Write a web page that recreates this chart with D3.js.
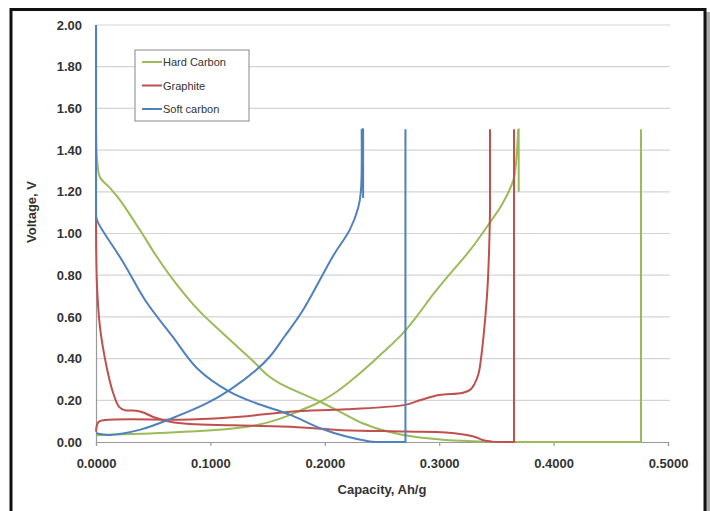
<!DOCTYPE html>
<html>
<head>
<meta charset="utf-8">
<script src="https://cdn.jsdelivr.net/npm/d3@7"></script>
<style>
  body { margin: 0; background: #fff; }
  svg { display: block; font-family: "Liberation Sans", Arial, sans-serif; }
</style>
</head>
<body>
<div id="chart"></div>
<script>
// capacity (Ah/g), voltage (V) pairs
const hardCarbonDischarge = [[0,1.5],[0.001,1.35],[0.0035,1.27],[0.012,1.22],[0.021,1.16],[0.038,1.02],[0.053,0.89],[0.07,0.76],[0.09,0.63],[0.111,0.52],[0.125,0.45],[0.137,0.39],[0.15,0.32],[0.161,0.28],[0.196,0.193],[0.215,0.14],[0.233,0.09],[0.255,0.05],[0.277,0.026],[0.305,0.01],[0.336,0.003],[0.345,0],[0.4764,0],[0.4764,1.5]];
const hardCarbonCharge = [[0,0.032],[0.04,0.04],[0.083,0.05],[0.12,0.065],[0.14,0.08],[0.161,0.112],[0.178,0.15],[0.196,0.193],[0.21,0.24],[0.222,0.29],[0.234,0.345],[0.251,0.43],[0.268,0.52],[0.28,0.6],[0.295,0.71],[0.31,0.81],[0.327,0.92],[0.344,1.05],[0.355,1.14],[0.365,1.26],[0.368,1.4],[0.369,1.5],[0.3695,1.5],[0.3695,1.2]];
const graphiteDischarge = [[0,1.1],[0.0008,0.76],[0.0035,0.55],[0.0093,0.36],[0.015,0.235],[0.02,0.17],[0.025,0.153],[0.035,0.15],[0.042,0.14],[0.05,0.12],[0.065,0.097],[0.082,0.086],[0.12,0.08],[0.17,0.073],[0.19,0.066],[0.212,0.058],[0.27,0.05],[0.306,0.045],[0.33,0.026],[0.338,0.01],[0.347,0.001],[0.3654,0],[0.3654,1.5]];
const graphiteCharge = [[0,0.05],[0.002,0.095],[0.008,0.105],[0.082,0.108],[0.126,0.121],[0.17,0.145],[0.219,0.157],[0.27,0.178],[0.283,0.2],[0.3,0.225],[0.32,0.235],[0.327,0.25],[0.331,0.28],[0.3345,0.33],[0.337,0.42],[0.3395,0.55],[0.342,0.72],[0.3435,0.9],[0.3444,1.1],[0.3444,1.5]];
const softCarbonDischarge = [[0,2.0],[0,1.08],[0.002,1.05],[0.024,0.86],[0.043,0.68],[0.067,0.505],[0.089,0.35],[0.117,0.24],[0.14,0.186],[0.17,0.13],[0.196,0.066],[0.219,0.026],[0.238,0.004],[0.245,0],[0.2705,0],[0.2705,1.5]];
const softCarbonCharge = [[0,0.042],[0.012,0.034],[0.038,0.058],[0.067,0.115],[0.097,0.186],[0.117,0.25],[0.14,0.345],[0.152,0.41],[0.164,0.5],[0.181,0.633],[0.207,0.89],[0.222,1.02],[0.229,1.12],[0.2315,1.2],[0.2322,1.5],[0.2335,1.5],[0.2335,1.17]];

const seriesNames = ['Hard Carbon', 'Graphite', 'Soft carbon'];
const seriesColors = ['#9bbb59', '#c0504d', '#4f81bd'];
// head / tail = how many points at each end are straight (vertical or flat) runs
const curves = [
  { name: 'Hard Carbon', data: hardCarbonDischarge, head: 0, tail: 2 },
  { name: 'Hard Carbon', data: hardCarbonCharge, head: 0, tail: 2 },
  { name: 'Graphite', data: graphiteDischarge, head: 0, tail: 2 },
  { name: 'Graphite', data: graphiteCharge, head: 0, tail: 1 },
  { name: 'Soft carbon', data: softCarbonDischarge, head: 1, tail: 2 },
  { name: 'Soft carbon', data: softCarbonCharge, head: 0, tail: 2 }
];
const xTicks = [0, 0.1, 0.2, 0.3, 0.4, 0.5];
const yTicks = [0, 0.2, 0.4, 0.6, 0.8, 1.0, 1.2, 1.4, 1.6, 1.8, 2.0];

const W = 710, H = 511;
const mLeft = 96, mRight = 668, mTop = 25, mBottom = 442;

const svg = d3.select('#chart').append('svg')
  .attr('width', W).attr('height', H);

// frame with drop shadow
svg.append('rect').attr('x', 13).attr('y', 12).attr('width', 697).attr('height', 510)
  .attr('fill', '#aaa');
svg.append('rect').attr('x', 11).attr('y', 9.5).attr('width', 694).attr('height', 510)
  .attr('fill', '#fff').attr('stroke', '#111').attr('stroke-width', 3);

const x = d3.scaleLinear().domain([0, 0.5]).range([mLeft, mRight]);
const y = d3.scaleLinear().domain([0, 2]).range([mBottom, mTop]);
const color = d3.scaleOrdinal().domain(seriesNames).range(seriesColors);

// gridlines
svg.append('g')
  .selectAll('line').data(yTicks.slice(1)).enter()
  .append('line')
  .attr('x1', mLeft).attr('x2', mRight + 2)
  .attr('y1', d => y(d)).attr('y2', d => y(d))
  .attr('stroke', '#d4d4d4').attr('stroke-width', 1.2);

// axes
const xAxis = svg.append('g')
  .attr('transform', `translate(0,${mBottom})`)
  .call(d3.axisBottom(x).tickValues(xTicks).tickFormat(d3.format('.4f')).tickSize(4).tickPadding(13));
const yAxis = svg.append('g')
  .attr('transform', `translate(${mLeft},0)`)
  .call(d3.axisLeft(y).tickValues(yTicks).tickFormat(d3.format('.2f')).tickSize(0).tickPadding(14));
[xAxis, yAxis].forEach(a => {
  a.selectAll('path, line').attr('stroke', '#999').attr('stroke-width', 1.2);
  a.selectAll('text').attr('fill', '#333').attr('font-size', 13).attr('font-weight', 'bold')
    .attr('font-family', '"Liberation Sans", Arial, sans-serif');
});

// curves: smooth middle, straight ends
const smooth = d3.line().x(d => x(d[0])).y(d => y(d[1])).curve(d3.curveCatmullRom.alpha(0.5));
const straight = d3.line().x(d => x(d[0])).y(d => y(d[1]));
function curvePath(c) {
  const n = c.data.length, a = c.head, b = n - 1 - c.tail;
  let p = smooth(c.data.slice(a, b + 1));
  if (a > 0) p = straight(c.data.slice(0, a + 1)) + p;
  if (c.tail > 0) p += straight(c.data.slice(b));
  return p;
}
svg.append('g').selectAll('path').data(curves).enter()
  .append('path')
  .attr('d', curvePath)
  .attr('fill', 'none')
  .attr('stroke', d => color(d.name))
  .attr('stroke-width', 2)
  .attr('stroke-linejoin', 'round');

// axis titles
svg.append('text')
  .attr('x', 382).attr('y', 494)
  .attr('text-anchor', 'middle')
  .attr('font-size', 13).attr('font-weight', 'bold').attr('fill', '#333')
  .text('Capacity, Ah/g');
svg.append('text')
  .attr('transform', 'translate(36,212) rotate(-90)')
  .attr('text-anchor', 'middle')
  .attr('font-size', 13).attr('font-weight', 'bold').attr('fill', '#333')
  .text('Voltage, V');

// legend
const legend = svg.append('g').attr('transform', 'translate(135,50)');
legend.append('rect').attr('width', 114).attr('height', 71)
  .attr('fill', '#fff').attr('stroke', '#888').attr('stroke-width', 1);
const items = legend.selectAll('g.item').data(seriesNames).enter()
  .append('g').attr('class', 'item')
  .attr('transform', (d, i) => `translate(0,${12 + i * 23.5})`);
items.append('line').attr('x1', 7).attr('x2', 27).attr('y1', 0).attr('y2', 0)
  .attr('stroke', d => color(d)).attr('stroke-width', 2);
items.append('text').attr('x', 28).attr('y', 4)
  .attr('font-size', 11).attr('fill', '#333').text(d => d);
</script>
</body>
</html>
